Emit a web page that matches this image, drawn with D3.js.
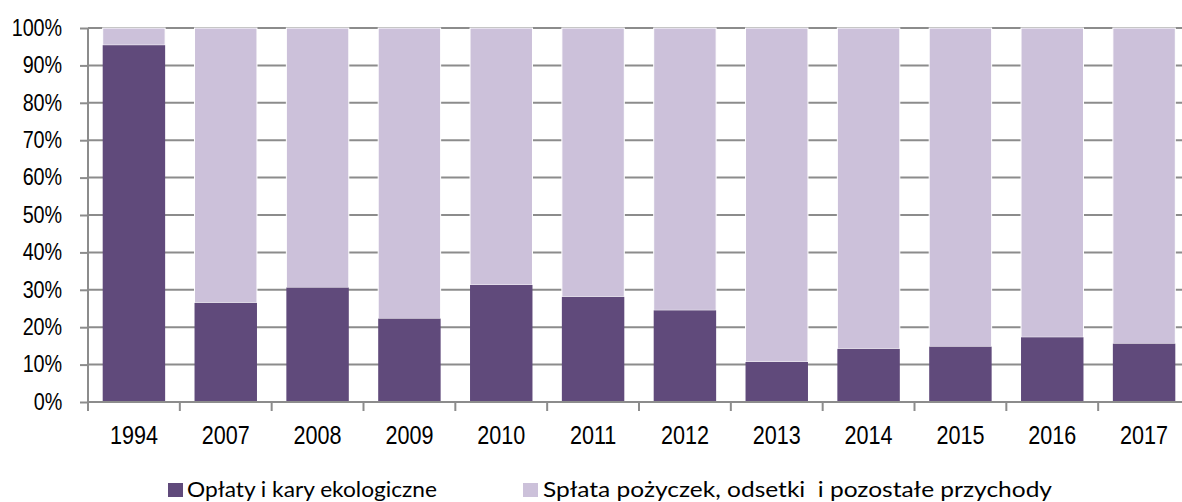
<!DOCTYPE html>
<html>
<head>
<meta charset="utf-8">
<script src="https://cdn.jsdelivr.net/npm/d3@7"></script>
<style>
  body { margin: 0; background: #fff; }
  svg { display: block; }
</style>
</head>
<body>
<div id="chart"></div>
<script>
const years = ['1994', '2007', '2008', '2009', '2010', '2011', '2012', '2013', '2014', '2015', '2016', '2017'];
const oplaty = [95.4, 26.5, 30.6, 22.3, 31.3, 28.1, 24.5, 10.7, 14.2, 14.8, 17.3, 15.6];
const splata = oplaty.map(v => 100 - v);
const yTicks = [0, 10, 20, 30, 40, 50, 60, 70, 80, 90, 100];
const seriesNames = ['Opłaty i kary ekologiczne', 'Spłata pożyczek, odsetki  i pozostałe przychody'];
const colors = ['#604a7b', '#ccc1da'];

const W = 1182, H = 502;
const margin = {top: 28, right: -8, bottom: 100, left: 88};
const width = W - margin.left - margin.right;
const height = H - margin.top - margin.bottom;
const axisFont = '"Liberation Sans Narrow", "Liberation Sans", Arial, sans-serif';
const narrow = 0.86; // the original labels use a condensed face

const svg = d3.select('#chart').append('svg')
  .attr('width', W)
  .attr('height', H);

const chart = svg.append('g')
  .attr('transform', `translate(${margin.left}, ${margin.top})`);

const scaleX = d3.scaleBand()
  .domain(years)
  .range([0, width])
  .paddingInner(0.32)
  .paddingOuter(0.16);

const scaleY = d3.scaleLinear()
  .domain([0, 100])
  .range([height, 0]);

// gridlines
chart.append('g')
  .selectAll('line')
  .data(yTicks.slice(1))
  .enter()
  .append('line')
  .attr('x1', 0)
  .attr('x2', width)
  .attr('y1', d => scaleY(d))
  .attr('y2', d => scaleY(d))
  .attr('stroke', '#8c8c8c')
  .attr('stroke-width', 2);

// stacked bars
const stack = years.map((y, i) => ({year: y, a: oplaty[i], b: splata[i]}));

const bars = chart.selectAll('.bar')
  .data(stack)
  .enter()
  .append('g')
  .attr('class', 'bar');

bars.append('rect')
  .attr('x', d => scaleX(d.year))
  .attr('width', scaleX.bandwidth())
  .attr('y', d => scaleY(d.a + d.b))
  .attr('height', d => scaleY(d.a) - scaleY(d.a + d.b))
  .attr('fill', colors[1])
  .attr('stroke', '#fff')
  .attr('stroke-width', 1);

bars.append('rect')
  .attr('x', d => scaleX(d.year))
  .attr('width', scaleX.bandwidth())
  .attr('y', d => scaleY(d.a))
  .attr('height', d => height - scaleY(d.a))
  .attr('fill', colors[0]);

// y axis
const yAxis = d3.axisLeft(scaleY)
  .tickValues(yTicks)
  .tickFormat(d => d + '%')
  .tickSize(8)
  .tickPadding(22);

const yAxisGroup = chart.append('g').call(yAxis);
yAxisGroup.select('.domain').attr('stroke', '#8c8c8c').attr('stroke-width', 2)
  .attr('d', `M0,0V${height}`);
yAxisGroup.selectAll('.tick line').attr('stroke', '#8c8c8c').attr('stroke-width', 2);
yAxisGroup.selectAll('text')
  .attr('font-family', axisFont)
  .attr('font-size', 23)
  .attr('fill', '#000')
  .attr('transform', `scale(${narrow}, 1)`);

// x axis, ticks on band boundaries
const xAxisGroup = chart.append('g')
  .attr('transform', `translate(0, ${height})`);

xAxisGroup.append('line')
  .attr('x1', 0)
  .attr('x2', width)
  .attr('stroke', '#8c8c8c')
  .attr('stroke-width', 2);

const step = scaleX.step();
const x0 = scaleX(years[0]) - scaleX.paddingOuter() * step;

xAxisGroup.selectAll('.xtick')
  .data(d3.range(years.length + 1))
  .enter()
  .append('line')
  .attr('class', 'xtick')
  .attr('x1', i => x0 + i * step)
  .attr('x2', i => x0 + i * step)
  .attr('y1', 0)
  .attr('y2', 9)
  .attr('stroke', '#8c8c8c')
  .attr('stroke-width', 2);

xAxisGroup.selectAll('.xlabel')
  .data(years)
  .enter()
  .append('text')
  .attr('class', 'xlabel')
  .attr('transform', d => `translate(${scaleX(d) + scaleX.bandwidth() / 2}, 42) scale(0.83, 1)`)
  .attr('text-anchor', 'middle')
  .attr('font-family', axisFont)
  .attr('font-size', 26)
  .attr('fill', '#000')
  .text(d => d);

// legend
const legendPos = [{sq: 168, tx: 187, len: 250}, {sq: 523, tx: 543, len: 509}];
const legend = svg.append('g').attr('class', 'legend');

legend.selectAll('rect')
  .data(seriesNames)
  .enter()
  .append('rect')
  .attr('x', (d, i) => legendPos[i].sq)
  .attr('y', 483)
  .attr('width', 15)
  .attr('height', 14)
  .attr('fill', (d, i) => colors[i]);

legend.selectAll('text')
  .data(seriesNames)
  .enter()
  .append('text')
  .attr('x', (d, i) => legendPos[i].tx)
  .attr('y', 497)
  .attr('font-family', 'Lato, "Open Sans", sans-serif')
  .attr('font-size', 22)
  .attr('fill', '#000')
  .attr('textLength', (d, i) => legendPos[i].len)
  .attr('lengthAdjust', 'spacingAndGlyphs')
  .style('white-space', 'pre')
  .text(d => d);
</script>
</body>
</html>
